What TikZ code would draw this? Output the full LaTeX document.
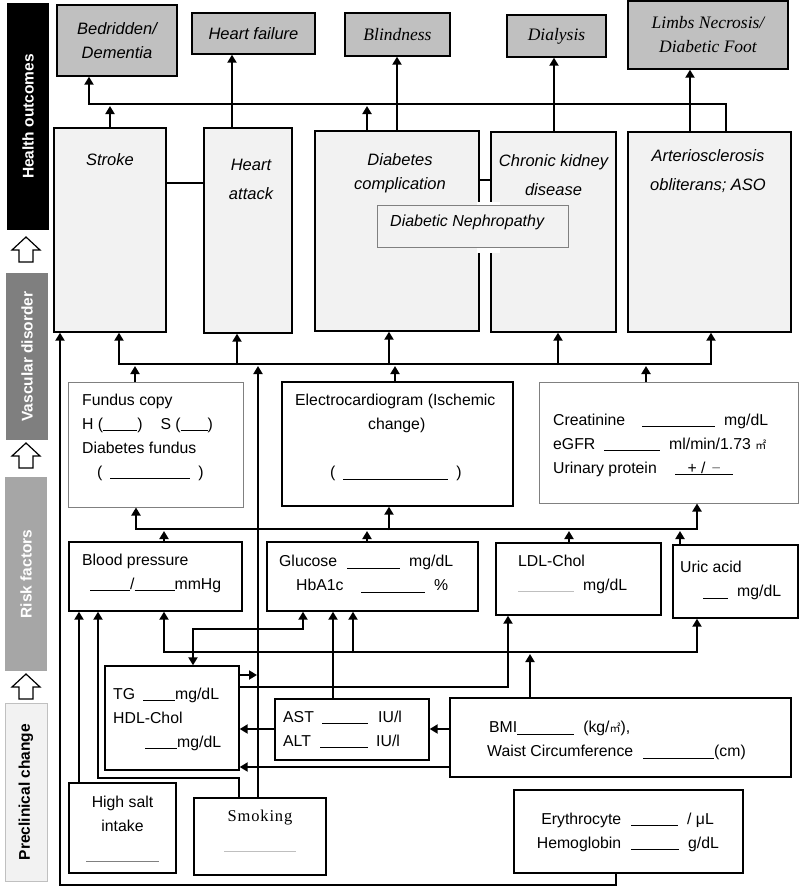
\documentclass[tikz,border=0pt]{standalone}
\usepackage{fontspec}
\setmainfont{Liberation Sans}
\newfontfamily\serf{Liberation Serif}
\newfontfamily\serfsp[LetterSpace=5]{Liberation Serif}
\newfontfamily\cjk{Noto Sans CJK SC}
\usetikzlibrary{arrows.meta}
\definecolor{outgray}{RGB}{192,192,192}
\definecolor{vasgray}{RGB}{242,242,242}
\definecolor{edgegray}{RGB}{128,128,128}
\definecolor{vdgray}{RGB}{127,127,127}
\definecolor{rfgray}{RGB}{166,166,166}
\newcommand{\blank}[1]{\rule[-2pt]{#1}{0.9pt}}
\newcommand{\sqm}{{\fontsize{11}{11}\selectfont\cjk ㎡}}
\begin{document}
\begin{tikzpicture}[x=1pt, y=-1pt,
    every node/.style={font=\fontsize{15.8}{24}\selectfont},
    >={Triangle[width=9pt,length=8pt]},
    box/.style={draw, line width=1.4pt, inner sep=0pt},
    outbox/.style={box, fill=outgray, align=center, font=\fontsize{16.5}{24}\selectfont\itshape},
    serbox/.style={outbox, font=\fontsize{17.5}{24}\selectfont\serf\itshape},
    vasbox/.style={box, fill=vasgray},
    exbox/.style={box, draw=edgegray, line width=1pt},
    side/.style={rotate=90, inner sep=0pt, minimum height=42pt, font=\fontsize{15.5}{18}\selectfont\bfseries},
    lbl/.style={anchor=west, inner sep=0pt, align=left},
    vlbl/.style={inner sep=0pt, align=center, font=\fontsize{16.5}{29}\selectfont\itshape},
    bus/.style={line width=2.9pt},
    arr/.style={bus, ->},
    tarr/.style={line width=2pt, ->}]
    \useasboundingbox (0,0) rectangle (800,887);

    % side bar
    \node[side, fill=black, text=white, minimum width=227pt] (ho) at (28,116.5) {Health outcomes};
    \node[side, fill=vdgray, text=white, minimum width=167pt] (vd) at (27,356.5) {Vascular disorder};
    \node[side, fill=rfgray, text=white, minimum width=194pt] (rf) at (26,574) {Risk factors};
    \node[side, fill=vasgray, draw=outgray, minimum width=178pt] (pc) at (26,792) {Preclinical change};
    \foreach \y in {237,443,674}
        \draw[line width=1.2pt, fill=white] (26,\y) -- (40,\y+13) -- (33,\y+13) -- (33,\y+25)
            -- (19,\y+25) -- (19,\y+13) -- (12,\y+13) -- cycle;

    % health outcomes
    \node[outbox, minimum width=120pt, minimum height=71pt] (bed) at (117,40.5) {Bedridden/\\Dementia};
    \node[outbox, minimum width=123pt, minimum height=41pt] (hf) at (253.5,33.5) {Heart failure};
    \node[serbox, minimum width=105pt, minimum height=43pt] (blind) at (397.5,34.5) {Blindness};
    \node[serbox, minimum width=99pt, minimum height=42pt] (dial) at (556.5,36) {Dialysis};
    \node[serbox, minimum width=160pt, minimum height=68pt] (limb) at (708,35) {Limbs Necrosis/\\Diabetic Foot};

    % vascular disorder
    \node[vasbox, minimum width=112pt, minimum height=204pt] (stroke) at (110,230) {};
    \node[vasbox, minimum width=88pt, minimum height=205pt] (ha) at (248,230.5) {};
    \node[vasbox, minimum width=164pt, minimum height=200pt] (dc) at (397,231) {};
    \node[vasbox, minimum width=125pt, minimum height=200pt] (ckd) at (553.5,232) {};
    \node[vasbox, minimum width=163pt, minimum height=200pt] (aso) at (709.5,232) {};
    \fill[white] (477,202) rectangle (500,253);
    \node[exbox, fill=vasgray, minimum width=191pt, minimum height=42pt] (neph) at (472.5,226) {};
    \node[vlbl] (strokelbl) at (110,160) {Stroke};
    \node[vlbl] (halbl) at (251,179) {Heart\\attack};
    \node[vlbl, font=\fontsize{16.5}{24}\selectfont\itshape] (dclbl) at (400,173) {Diabetes\\complication};
    \node[vlbl] (ckdlbl) at (553.5,175) {Chronic kidney\\disease};
    \node[vlbl] (asolbl) at (708,171) {Arteriosclerosis\\obliterans; ASO};
    \node[lbl, font=\fontsize{16}{18}\selectfont\itshape] (nephlbl) at (390,222) {Diabetic Nephropathy};

    % examinations
    \node[exbox, minimum width=175pt, minimum height=125pt] (fund) at (155.5,444.5) {};
    \node[box, minimum width=231pt, minimum height=124pt] (ecg) at (397.5,444) {};
    \node[exbox, minimum width=259pt, minimum height=121pt] (crea) at (668.5,442.5) {};
    \node[lbl] (fundtxt) at (82,437) {Fundus copy\\H (\blank{34pt})\hspace{18pt}S (\blank{27pt})\\Diabetes fundus\\\hspace{15pt}(\hspace{8pt}\blank{80pt}\hspace{8pt})};
    \node[lbl] (ecgtxt) at (295,437.5) {Electrocardiogram (Ischemic\\\hspace{73pt}change)\\[24pt]\hspace{35pt}(\hspace{8pt}\blank{105pt}\hspace{8pt})};
    \node[lbl] (creatxt) at (553,445) {\makebox[89pt][l]{Creatinine}\blank{73pt}\hspace{9pt}mg/dL\\\makebox[51pt][l]{eGFR}\blank{56pt}\hspace{9pt}ml/min/1.73 \sqm\\\makebox[122pt][l]{Urinary protein}\underline{\makebox[58pt]{+ /\hspace{6pt}\textcolor{gray}{−}}}};

    % risk factors
    \node[box, minimum width=173pt, minimum height=69pt] (bp) at (155.5,576.5) {};
    \node[box, minimum width=211pt, minimum height=69pt] (glu) at (372.5,576.5) {};
    \node[box, minimum width=165pt, minimum height=72pt] (ldl) at (578.5,579) {};
    \node[box, minimum width=125pt, minimum height=73pt] (uric) at (735.5,581.5) {};
    \node[lbl] (bptxt) at (82,573) {Blood pressure\\\hspace{8pt}\blank{40pt}/\blank{40pt}mmHg};
    \node[lbl] (glutxt) at (279,574) {\makebox[68pt][l]{Glucose}\blank{53pt}\hspace{9pt}mg/dL\\\hspace{17pt}\makebox[65pt][l]{HbA1c}\blank{64pt}\hspace{9pt}\%};
    \node[lbl] (ldltxt) at (518,574) {LDL-Chol\\\textcolor{lightgray}{\blank{56pt}}\hspace{9pt}mg/dL};
    \node[lbl] (urictxt) at (680,580.5) {Uric acid\\\hspace{23pt}\blank{25pt}\hspace{9pt}mg/dL};

    % preclinical change
    \node[box, minimum width=134pt, minimum height=104pt] (tg) at (172,718) {};
    \node[box, minimum width=154pt, minimum height=61pt] (ast) at (352,729.5) {};
    \node[box, minimum width=341pt, minimum height=79pt] (bmi) at (620.5,737.5) {};
    \node[box, minimum width=229pt, minimum height=83pt] (ery) at (628.5,831.5) {};
    \node[box, minimum width=107pt, minimum height=90pt] (salt) at (122.5,828) {};
    \node[box, minimum width=132pt, minimum height=77pt] (smok) at (260,836.5) {};
    \node[lbl] (tgtxt) at (113,719) {TG\hspace{8pt}\blank{32pt}mg/dL\\HDL-Chol\\\hspace{32pt}\blank{32pt}mg/dL};
    \node[lbl] (asttxt) at (283,729.5) {\makebox[39pt][l]{AST}\blank{46pt}\hspace{10pt}IU/l\\\makebox[37pt][l]{ALT}\blank{48pt}\hspace{8pt}IU/l};
    \node[lbl] (bmitxt) at (489,740.5) {BMI\blank{57pt}\hspace{9pt}(kg/\sqm),\\\hspace{-2pt}Waist Circumference\hspace{10pt}\blank{71pt}(cm)};
    \node[lbl] (erytxt) at (534,832) {\makebox[87pt][r]{Erythrocyte}\hspace{10pt}\blank{47pt}\hspace{9pt}/ μL\\\makebox[87pt][r]{Hemoglobin}\hspace{10pt}\blank{48pt}\hspace{9pt}g/dL};
    \node[inner sep=0pt, align=center] (salttxt) at (122.5,829) {High salt\\intake\\[3.5pt]\textcolor{gray}{\blank{73pt}}};
    \node[inner sep=0pt, align=center] (smoktxt) at (260,831) {{\fontsize{16.5}{24}\selectfont\serfsp Smoking}\\[5pt]\textcolor{lightgray}{\blank{72pt}}};

    % vascular disorder -> health outcomes
    \draw[bus, <-] (89,0 |- bed.south) -- (89,104) -- (726,104) -- (726,0 |- aso.north);
    \draw[arr] (110,0 |- stroke.north) -- (110,106);
    \draw[arr] (232,0 |- ha.north) -- (232,0 |- hf.south);
    \draw[arr] (367,0 |- dc.north) -- (367,106);
    \draw[arr] (397,0 |- dc.north) -- (397,0 |- blind.south);
    \draw[arr] (554,0 |- ckd.north) -- (554,0 |- dial.south);
    \draw[arr] (690,0 |- aso.north) -- (690,0 |- limb.south);
    \draw[bus] (stroke.east |- 0,183) -- (ha.west |- 0,183);
    \draw[bus] (dc.east |- 0,180) -- (ckd.west |- 0,180);

    % examinations -> vascular disorder
    \draw[bus, <->] (119,0 |- stroke.south) -- (119,364) -- (711,364) -- (711,0 |- aso.south);
    \foreach \x/\n in {237/ha, 389/dc, 558/ckd}
        \draw[arr] (\x,365) -- (\x,0 |- \n.south);
    \foreach \x/\n in {135/fund, 395/ecg, 646/crea}
        \draw[arr] (\x,0 |- \n.north) -- (\x,366);

    % risk factors -> examinations
    \draw[bus, <->] (136,0 |- fund.south) -- (136,529) -- (697,529) -- (697,0 |- crea.south);
    \draw[arr] (389,530) -- (389,0 |- ecg.south);
    \foreach \x/\n in {164/bp, 367/glu, 569/ldl, 680/uric}
        \draw[arr] (\x,0 |- \n.north) -- (\x,531);

    % preclinical change -> risk factors
    \draw[tarr] (258,0 |- smok.north) -- (258,366);
    \draw[tarr] (616,0 |- ery.south) -- (616,885) -- (60,885) -- (60,0 |- stroke.south);
    \draw[tarr] (79,0 |- salt.north) -- (79,0 |- bp.south);
    \draw[arr] (239,0 |- smok.north) -- (239,778) -- (98,778) -- (98,0 |- bp.south);
    \draw[bus, <->] (164,0 |- bp.south) -- (164,652) -- (697,652) -- (697,0 |- uric.south);
    \draw[arr] (530,0 |- bmi.north) -- (530,654);
    \draw[arr] (353,653) -- (353,0 |- glu.south);
    \draw[bus, <->] (193,0 |- tg.north) -- (193,629) -- (303,629) -- (303,0 |- glu.south);
    \draw[tarr] (333,0 |- ast.north) -- (333,0 |- glu.south);
    \draw[arr] (tg.east |- 0,675) -- (257,675);
    \draw[arr] (tg.east |- 0,687) -- (508,687) -- (508,0 |- ldl.south);
    \draw[arr] (ast.west |- 0,729) -- (tg.east |- 0,729);
    \draw[arr] (bmi.west |- 0,729) -- (ast.east |- 0,729);
    \draw[arr] (bmi.west |- 0,767) -- (tg.east |- 0,767);
\end{tikzpicture}
\end{document}
